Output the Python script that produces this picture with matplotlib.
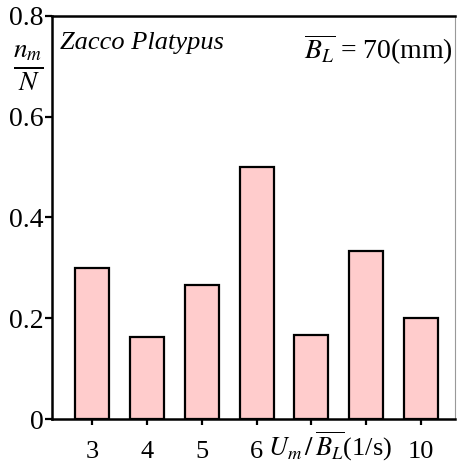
import matplotlib
matplotlib.use("Agg")
import matplotlib.pyplot as plt

plt.rcParams['font.family'] = 'serif'
plt.rcParams['font.serif'] = ['Liberation Serif', 'DejaVu Serif']
plt.rcParams['mathtext.fontset'] = 'stix'

# velocity ratio categories and measured fraction n_m/N
categories = ['3', '4', '5', '6', '7', '8', '10']
tick_labels = ['3', '4', '5', '6', '', '', '10']
fractions = [0.300, 0.162, 0.266, 0.500, 0.166, 0.334, 0.200]

fig = plt.figure(figsize=(4.58, 4.70), dpi=100)
ax = fig.add_axes([0.1135, 0.1085, 0.88, 0.8575])

pos = list(range(len(categories)))
ax.bar(pos, fractions, width=0.62, color='#ffcccc', edgecolor='black', linewidth=1.6)

ax.set_xlim(-0.73, 6.62)
ax.set_ylim(0, 0.8)
ax.set_xticks(pos)
ax.set_xticklabels(tick_labels, fontsize=19)
ax.set_yticks([0, 0.2, 0.4, 0.6, 0.8])
ax.set_yticklabels(['0', '0.2', '0.4', '0.6', '0.8'], fontsize=20)
ax.tick_params(axis='y', direction='out', length=5, width=1.6, pad=1)
ax.tick_params(axis='x', direction='out', length=4, width=1.6, pad=12)

for s in ['left', 'bottom', 'top']:
    ax.spines[s].set_linewidth(1.8)
ax.spines['right'].set_linewidth(0.8)
ax.spines['right'].set_color('#999999')

fig.text(0.061, 0.855, r'$\frac{n_m}{N}$', fontsize=28, ha='center', va='center')
ax.text(0.02, 0.96, 'Zacco Platypus', style='italic', fontsize=19,
        transform=ax.transAxes, ha='left', va='top')
ax.text(0.995, 0.96, r'$\overline{B_L}$ = 70(mm)', fontsize=20,
        transform=ax.transAxes, ha='right', va='top')
fig.text(0.72, 0.05, r'$U_m\,/\,\overline{B_L}$(1/s)', fontsize=19, ha='center', va='center')

fig.savefig('out.png', dpi=100)
